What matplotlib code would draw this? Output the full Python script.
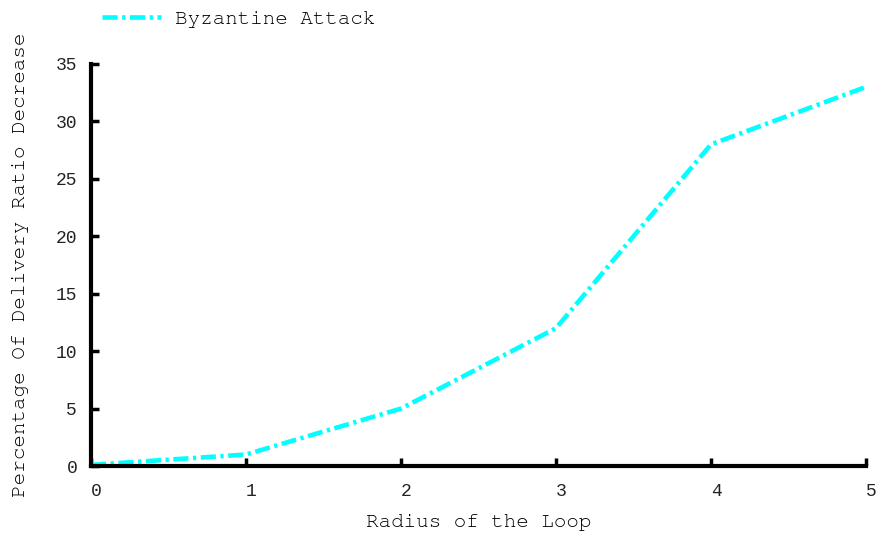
import matplotlib.pyplot as plt
from matplotlib.transforms import ScaledTranslation

radius = [0, 1, 2, 3, 4, 5]
pdr_decrease = [0.1, 1, 5, 12, 28, 33]
y_ticks = [0, 5, 10, 15, 20, 25, 30, 35]

label_font = ['FreeMono', 'Liberation Mono']
tick_font = 'Liberation Mono'

fig = plt.figure(figsize=(8.76, 5.33), dpi=100)
ax = fig.add_axes([0.1039, 0.1257, 0.8847, 0.7543])

ax.plot(radius, pdr_decrease, color='cyan', linewidth=3.3,
        dashes=[3.3, 1, 0.7, 1], label='Byzantine Attack', clip_on=False)

ax.set_xlim(0, 5)
ax.set_ylim(0, 35)
ax.set_xticks(radius)
ax.set_yticks(y_ticks)

for side in ['top', 'right']:
    ax.spines[side].set_visible(False)
for side in ['left', 'bottom']:
    ax.spines[side].set_linewidth(3)

ax.tick_params(direction='in', length=6, width=2.5, labelsize=13, colors='black')
ax.tick_params(axis='x', pad=12)
ax.tick_params(axis='y', pad=10)
for lbl in ax.get_xticklabels() + ax.get_yticklabels():
    lbl.set_fontfamily(tick_font)
    lbl.set_color('#222222')
# nudge x tick labels a little to the right of their ticks
offset = ScaledTranslation(5 / 100, 0, fig.dpi_scale_trans)
for lbl in ax.get_xticklabels():
    lbl.set_transform(lbl.get_transform() + offset)

ax.set_xlabel('Radius of the Loop', fontfamily=label_font, fontsize=15, labelpad=10)
ax.set_ylabel('Percentage Of Delivery Ratio Decrease', fontfamily=label_font,
              fontsize=15, labelpad=19)

leg = ax.legend(loc='upper left', bbox_to_anchor=(0.1, 1.01),
                bbox_transform=fig.transFigure, frameon=False,
                prop={'family': label_font, 'size': 15},
                handlelength=2.8, handletextpad=0.7, borderpad=0.2)

fig.savefig('out.png', dpi=100)
